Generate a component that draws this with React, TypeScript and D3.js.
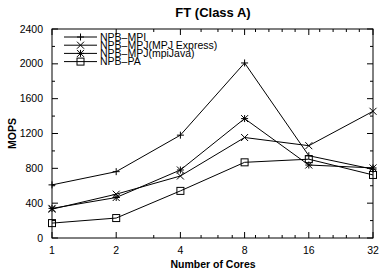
import React from "react";
import * as d3 from "d3";

const cores = [1, 2, 4, 8, 16, 32];
const npbMpi = [610, 762, 1181, 2010, 945, 790];
const mpjExpress = [331, 503, 712, 1154, 1060, 1455];
const mpiJava = [340, 465, 781, 1371, 838, 805];
const npbPa = [171, 229, 541, 869, 905, 724];
const yTicks = [0, 400, 800, 1200, 1600, 2000, 2400];
const yMinor = [200, 600, 1000, 1400, 1800, 2200];
const xMinor = [3, 5, 6, 7, 9, 10.4, 12, 13.8, 18, 20.8, 24, 27.6];
const seriesNames = ["NPB\u2013MPI", "NPB\u2013MPJ(MPJ Express)", "NPB\u2013MPJ(mpiJava)", "NPB\u2013PA"];
const seriesValues = [npbMpi, mpjExpress, mpiJava, npbPa];
const markers = ["plus", "cross", "star", "square"];

const W = 383, H = 271;
const L = 52, R = 373, T = 29, B = 238;
const font = "'Liberation Sans', Arial, Helvetica, sans-serif";

function Marker({ type, x, y }: { type: string; x: number; y: number }) {
  const s = 3.5;
  const st = { stroke: "#000", strokeWidth: 1, fill: "none" };
  if (type === "plus")
    return <path d={`M${x - s},${y}H${x + s}M${x},${y - s}V${y + s}`} {...st} />;
  if (type === "cross")
    return <path d={`M${x - s},${y - s}L${x + s},${y + s}M${x - s},${y + s}L${x + s},${y - s}`} {...st} />;
  if (type === "star")
    return (
      <path
        d={`M${x - s},${y}H${x + s}M${x},${y - s}V${y + s}M${x - s},${y - s}L${x + s},${y + s}M${x - s},${y + s}L${x + s},${y - s}`}
        {...st}
      />
    );
  return <rect x={x - s} y={y - s} width={2 * s} height={2 * s} {...st} />;
}

export default function App() {
  const x = d3.scaleLog().base(2).domain([1, 32]).range([L, R]);
  const y = d3.scaleLinear().domain([0, 2400]).range([B, T]);
  const line = d3
    .line<number>()
    .x((_, i) => x(cores[i]))
    .y((d) => y(d));
  const legendY = [37, 45.2, 53.4, 61.6];
  return (
    <svg width={W} height={H} style={{ position: "absolute", left: 0, top: 0, background: "#fff" }}>
      <rect width={W} height={H} fill="#fff" />
      <text x={213} y={17} textAnchor="middle" fontFamily={font} fontWeight="bold" fontSize={13}>
        FT (Class A)
      </text>
      {yTicks.map((v) => (
        <g key={"y" + v}>
          <line x1={L} x2={L + 6} y1={y(v)} y2={y(v)} stroke="#000" />
          <line x1={R} x2={R - 6} y1={y(v)} y2={y(v)} stroke="#000" />
          <text x={43} y={y(v) + 3.6} textAnchor="end" fontFamily={font} fontSize={10.5}>
            {v}
          </text>
        </g>
      ))}
      {yMinor.map((v) => (
        <g key={"ym" + v}>
          <line x1={L} x2={L + 3} y1={y(v)} y2={y(v)} stroke="#000" />
          <line x1={R} x2={R - 3} y1={y(v)} y2={y(v)} stroke="#000" />
        </g>
      ))}
      {cores.map((c) => (
        <g key={"x" + c}>
          <line x1={x(c)} x2={x(c)} y1={B} y2={B - 6} stroke="#000" />
          <line x1={x(c)} x2={x(c)} y1={T} y2={T + 6} stroke="#000" />
          <text x={x(c)} y={254} textAnchor="middle" fontFamily={font} fontSize={10.5}>
            {c}
          </text>
        </g>
      ))}
      {xMinor.map((c) => (
        <g key={"xm" + c}>
          <line x1={x(c)} x2={x(c)} y1={B} y2={B - 3} stroke="#000" />
          <line x1={x(c)} x2={x(c)} y1={T} y2={T + 3} stroke="#000" />
        </g>
      ))}
      <rect x={L} y={T} width={R - L} height={B - T} fill="none" stroke="#000" strokeWidth={1} />
      <text x={213} y={268} textAnchor="middle" fontFamily={font} fontWeight="bold" fontSize={10.5}>
        Number of Cores
      </text>
      <text
        transform={`translate(15.5,${(T + B) / 2}) rotate(-90)`}
        textAnchor="middle"
        fontFamily={font}
        fontWeight="bold"
        fontSize={10.5}
      >
        MOPS
      </text>
      {seriesValues.map((vals, si) => (
        <g key={"s" + si}>
          <path d={line(vals) || ""} fill="none" stroke="#000" strokeWidth={1} />
          {vals.map((v, i) => (
            <Marker key={i} type={markers[si]} x={x(cores[i])} y={y(v)} />
          ))}
        </g>
      ))}
      {seriesNames.map((n, i) => (
        <g key={"l" + i}>
          <line x1={64} x2={97} y1={legendY[i]} y2={legendY[i]} stroke="#000" />
          <Marker type={markers[i]} x={80.5} y={legendY[i]} />
          <text x={100} y={legendY[i] + 3.6} fontFamily={font} fontSize={10.5} textLength={undefined}>
            {n}
          </text>
        </g>
      ))}
    </svg>
  );
}
